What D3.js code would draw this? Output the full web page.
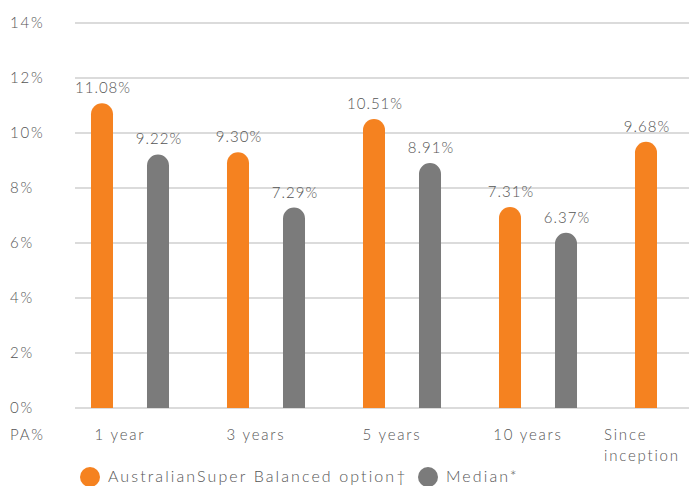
<!DOCTYPE html>
<html>
<head>
<meta charset="utf-8">
<script src="https://cdn.jsdelivr.net/npm/d3@7"></script>
<style>
  body { margin: 0; background: #fff; }
  text { font-family: "Lato", "Open Sans", sans-serif; font-weight: 300; fill: #555; letter-spacing: 1.8px; }
</style>
</head>
<body>
<div id="chart"></div>
<script>
// chart data
var periods = ["1 year", "3 years", "5 years", "10 years", "Since inception"];
var fundValues = [11.08, 9.30, 10.51, 7.31, 9.68];
var medianValues = [9.22, 7.29, 8.91, 6.37, null];
var yTicks = [0, 2, 4, 6, 8, 10, 12, 14];
var seriesNames = ["AustralianSuper Balanced option\u2020", "Median*"];
var colors = ["#f58220", "#7b7b7b"];

var width = 689, height = 486;

var svg = d3.select("#chart")
  .append("svg")
    .attr("width", width)
    .attr("height", height);

// scales
var y = d3.scaleLinear()
  .domain([0, 14])
  .range([408, 23]);

var x0 = d3.scaleBand()
  .domain(periods)
  .range([62, 62 + 136 * periods.length])
  .paddingInner(0);

var x1 = d3.scaleBand()
  .domain(["fund", "median"])
  .range([12, 124])
  .paddingInner(0.607)
  .paddingOuter(0.3035);

// gridlines + tick labels
var yAxis = svg.append("g").attr("class", "y-axis");
yAxis.selectAll("line")
  .data(yTicks)
  .enter().append("line")
    .attr("x1", 75)
    .attr("x2", width)
    .attr("y1", function(d) { return y(d); })
    .attr("y2", function(d) { return y(d); })
    .attr("stroke", "#cfcfcf")
    .attr("stroke-width", 1.5);

yAxis.selectAll("text")
  .data(yTicks)
  .enter().append("text")
    .attr("x", 10)
    .attr("y", function(d) { return y(d) + 5; })
    .attr("font-size", "15px")
    .text(function(d) { return d + "%"; });

svg.append("text")
  .attr("x", 10)
  .attr("y", 440)
  .attr("font-size", "15px")
  .text("PA%");

// bars with rounded tops
function barPath(cx, w, top, bottom) {
  var r = w / 2;
  return "M" + (cx - r) + "," + bottom +
    "V" + (top + r) +
    "A" + r + "," + r + " 0 0 1 " + (cx + r) + "," + (top + r) +
    "V" + bottom + "Z";
}

var rows = periods.map(function(p, i) {
  return { period: p, fund: fundValues[i], median: medianValues[i] };
});

var groups = svg.selectAll("g.group")
  .data(rows)
  .enter().append("g")
    .attr("class", "group")
    .attr("transform", function(d) { return "translate(" + x0(d.period) + ",0)"; });

var bars = groups.selectAll("g.bar")
  .data(function(d) {
    return [
      { key: "fund", value: d.fund, color: colors[0] },
      { key: "median", value: d.median, color: colors[1] }
    ].filter(function(b) { return b.value != null; });
  })
  .enter().append("g").attr("class", "bar");

bars.append("path")
  .attr("d", function(d) {
    var cx = x1(d.key) + x1.bandwidth() / 2;
    return barPath(cx, x1.bandwidth(), y(d.value), y(0));
  })
  .attr("fill", function(d) { return d.color; });

bars.append("text")
  .attr("x", function(d) { return x1(d.key) + x1.bandwidth() / 2 + 1; })
  .attr("y", function(d) { return y(d.value) - 10; })
  .attr("text-anchor", "middle")
  .attr("font-size", "15px")
  .style("letter-spacing", "1px")
  .text(function(d) { return d3.format(".2f")(d.value) + "%"; });

// category labels
groups.append("text")
  .attr("x", function(d) {
    if (d.median == null) return x1("fund") + x1.bandwidth() / 2 - 42;
    return x0.bandwidth() / 2 - 10;
  })
  .attr("y", 440)
  .attr("text-anchor", function(d) { return d.median == null ? "start" : "middle"; })
  .attr("font-size", "15px")
  .each(function(d) {
    var words = d.period === "Since inception" ? ["Since", "inception"] : [d.period];
    var t = d3.select(this);
    words.forEach(function(w, i) {
      t.append("tspan")
        .attr("x", t.attr("x"))
        .attr("dy", i === 0 ? 0 : 21)
        .text(w);
    });
  });

// legend
var legend = svg.append("g").attr("class", "legend");
var legendX = [90, 428];
seriesNames.forEach(function(name, i) {
  legend.append("circle")
    .attr("cx", legendX[i])
    .attr("cy", 477)
    .attr("r", 10)
    .attr("fill", colors[i]);
  legend.append("text")
    .attr("x", legendX[i] + 18)
    .attr("y", 482)
    .attr("font-size", "16px")
    .style("letter-spacing", "2.1px")
    .text(name);
});
</script>
</body>
</html>
